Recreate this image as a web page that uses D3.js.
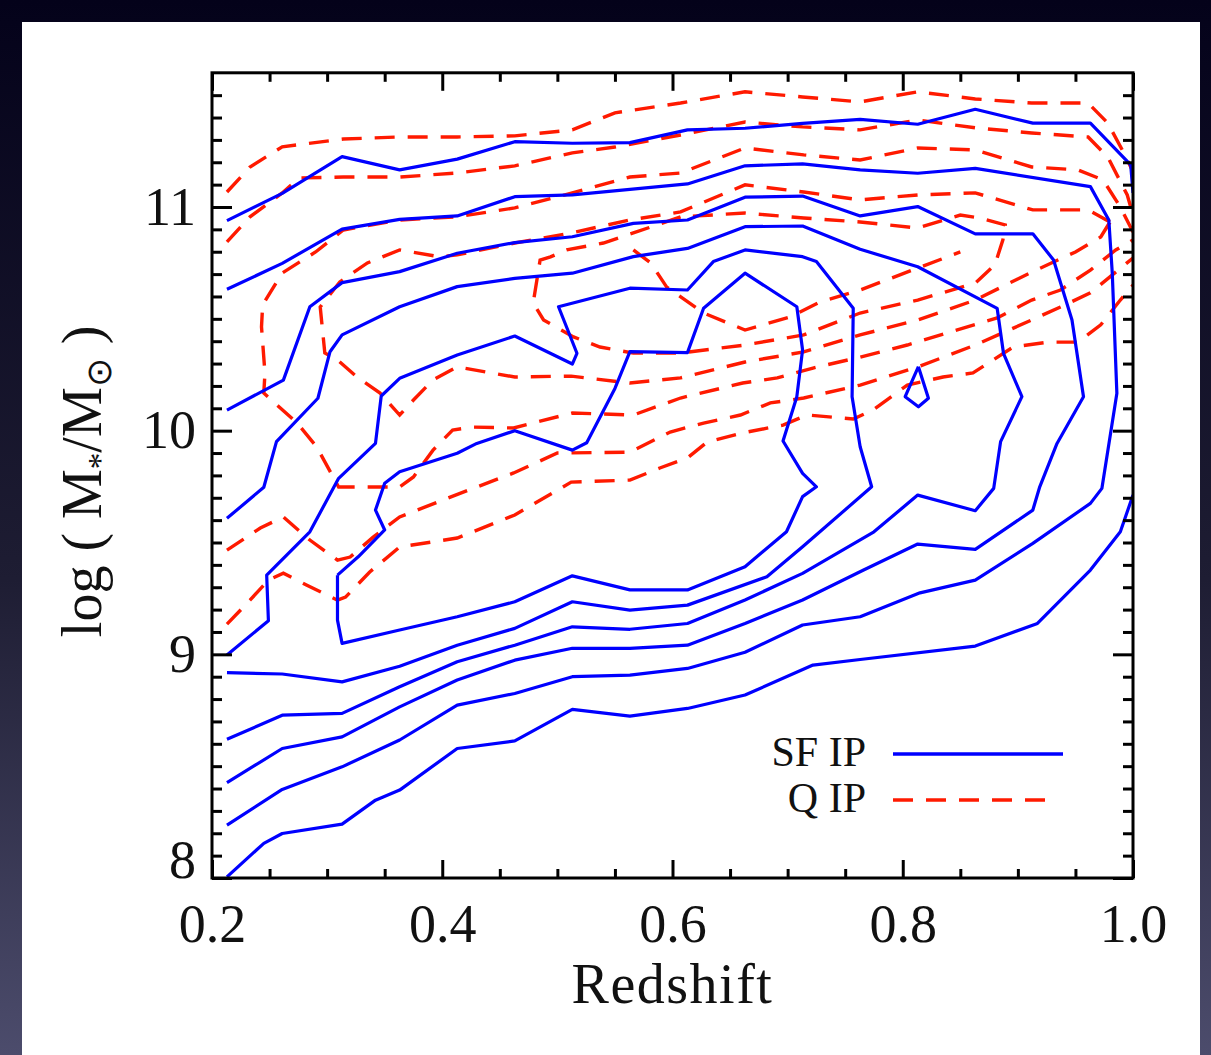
<!DOCTYPE html>
<html>
<head>
<meta charset="utf-8">
<script src="https://cdn.jsdelivr.net/npm/d3@7"></script>
<style>
  html, body { margin: 0; padding: 0; background: #05031a; }
  svg { display: block; }
</style>
</head>
<body>
<div id="chart"></div>
<script>
// axis ticks
const xMajor = [0.2, 0.4, 0.6, 0.8, 1.0];
const xMinor = d3.range(0.25, 1.0, 0.05).filter(v => Math.abs(v * 5 - Math.round(v * 5)) > 1e-6);
const yMajor = [8, 9, 10, 11];
const yMinor = d3.range(8.1, 11.6, 0.1).filter(v => Math.abs(v - Math.round(v)) > 1e-6);

// SF IP contours: [redshift, log M]
const sfLevel1Top = [[0.213,10.939],[0.261,11.061],[0.313,11.225],[0.363,11.166],[0.413,11.214],[0.463,11.292],[0.513,11.285],[0.563,11.288],[0.613,11.345],[0.663,11.352],[0.713,11.374],[0.763,11.392],[0.813,11.370],[0.863,11.437],[0.913,11.375],[0.963,11.375],[0.998,11.188],[1.0,11.063]];
const sfLevel1Bottom = [[0.213,8.005],[0.245,8.155],[0.261,8.199],[0.313,8.241],[0.342,8.348],[0.363,8.393],[0.413,8.579],[0.463,8.613],[0.513,8.754],[0.563,8.724],[0.613,8.758],[0.663,8.818],[0.722,8.952],[0.763,8.977],[0.863,9.037],[0.917,9.138],[0.963,9.377],[0.989,9.548],[1.0,9.712]];
const sfLevel2 = [[0.213,10.632],[0.261,10.748],[0.313,10.901],[0.363,10.945],[0.413,10.960],[0.463,11.046],[0.513,11.054],[0.613,11.103],[0.663,11.184],[0.713,11.193],[0.763,11.166],[0.813,11.151],[0.863,11.173],[0.963,11.091],[0.979,10.942],[0.982,10.704],[0.986,10.167],[0.973,9.742],[0.963,9.675],[0.913,9.496],[0.863,9.332],[0.815,9.275],[0.763,9.168],[0.713,9.131],[0.663,9.009],[0.613,8.937],[0.563,8.907],[0.513,8.900],[0.463,8.825],[0.413,8.773],[0.363,8.617],[0.313,8.497],[0.261,8.396],[0.213,8.236]];
const sfLevel3 = [[0.213,10.092],[0.262,10.226],[0.285,10.554],[0.313,10.662],[0.363,10.711],[0.413,10.793],[0.463,10.841],[0.513,10.867],[0.566,10.927],[0.613,10.942],[0.663,11.044],[0.713,11.049],[0.763,10.960],[0.813,11.002],[0.863,10.880],[0.913,10.880],[0.931,10.763],[0.947,10.495],[0.957,10.152],[0.934,9.943],[0.919,9.749],[0.913,9.645],[0.863,9.469],[0.813,9.493],[0.766,9.377],[0.713,9.243],[0.663,9.138],[0.613,9.041],[0.563,9.027],[0.513,9.027],[0.463,8.974],[0.413,8.885],[0.363,8.765],[0.313,8.631],[0.261,8.579],[0.213,8.426]];
const sfLevel4 = [[0.213,9.608],[0.245,9.747],[0.256,9.951],[0.292,10.145],[0.3025,10.353],[0.313,10.428],[0.363,10.554],[0.413,10.644],[0.463,10.681],[0.513,10.704],[0.566,10.778],[0.613,10.815],[0.663,10.912],[0.713,10.915],[0.763,10.811],[0.813,10.733],[0.882,10.547],[0.8875,10.346],[0.9035,10.152],[0.885,9.951],[0.879,9.742],[0.863,9.642],[0.813,9.712],[0.775,9.548],[0.713,9.362],[0.663,9.243],[0.613,9.138],[0.563,9.112],[0.513,9.123],[0.463,9.041],[0.413,8.967],[0.363,8.855],[0.313,8.736],[0.261,8.728],[0.213,8.620]];
const sfLevel5 = [[0.213,8.997],[0.249,9.150],[0.2475,9.354],[0.285,9.548],[0.310,9.787],[0.342,9.943],[0.347,10.155],[0.363,10.234],[0.413,10.338],[0.463,10.423],[0.513,10.298],[0.517,10.346],[0.501,10.554],[0.563,10.637],[0.613,10.629],[0.6355,10.756],[0.663,10.808],[0.713,10.778],[0.725,10.756],[0.757,10.547],[0.756,10.152],[0.763,9.928],[0.773,9.749],[0.713,9.481],[0.682,9.347],[0.613,9.220],[0.563,9.198],[0.513,9.235],[0.463,9.116],[0.413,9.041],[0.363,8.947],[0.313,8.877],[0.261,8.912],[0.213,8.918]];
const sfLevel6 = [[0.309,9.354],[0.327,9.436],[0.350,9.556],[0.342,9.645],[0.350,9.765],[0.363,9.816],[0.413,9.899],[0.430,9.943],[0.463,10.000],[0.513,9.913],[0.5255,9.946],[0.550,10.189],[0.563,10.353],[0.613,10.349],[0.627,10.547],[0.663,10.704],[0.708,10.554],[0.713,10.361],[0.708,10.152],[0.696,9.954],[0.713,9.809],[0.725,9.749],[0.713,9.705],[0.699,9.548],[0.663,9.392],[0.613,9.288],[0.563,9.288],[0.513,9.351],[0.463,9.235],[0.413,9.168],[0.363,9.109],[0.313,9.049],[0.309,9.153],[0.309,9.354]];
const sfPeak = [[0.8136,10.286],[0.8223,10.145],[0.8136,10.107],[0.8021,10.152],[0.8136,10.286]];

// Q IP contours: [redshift, log M]
const qTop1 = [[0.213,11.067],[0.233,11.179],[0.261,11.269],[0.314,11.304],[0.363,11.313],[0.413,11.313],[0.463,11.318],[0.513,11.345],[0.550,11.421],[0.607,11.465],[0.663,11.515],[0.713,11.492],[0.763,11.470],[0.813,11.515],[0.863,11.483],[0.912,11.465],[0.961,11.465],[0.978,11.376],[0.993,11.233],[1.0,11.157]];
const qTop2 = [[0.213,10.844],[0.233,10.956],[0.261,11.063],[0.276,11.130],[0.314,11.134],[0.363,11.134],[0.413,11.152],[0.463,11.184],[0.513,11.242],[0.550,11.268],[0.607,11.322],[0.663,11.380],[0.713,11.358],[0.763,11.345],[0.813,11.389],[0.863,11.354],[0.912,11.331],[0.961,11.313],[0.978,11.224],[0.995,11.054],[1.0,10.964]];
const qLoop3 = [[1.0,10.888],[0.989,11.0],[0.974,11.121],[0.952,11.166],[0.912,11.179],[0.863,11.255],[0.813,11.264],[0.763,11.210],[0.714,11.233],[0.663,11.264],[0.607,11.152],[0.563,11.134],[0.513,11.063],[0.463,10.996],[0.413,10.956],[0.363,10.942],[0.314,10.897],[0.290,10.799],[0.261,10.705],[0.244,10.562],[0.243,10.464],[0.246,10.258],[0.245,10.168],[0.274,10.034],[0.291,9.927],[0.310,9.748],[0.363,9.748],[0.375,9.793],[0.392,9.913],[0.409,10.003],[0.427,10.016],[0.462,10.012],[0.513,10.079],[0.566,10.070],[0.607,10.146],[0.661,10.213],[0.691,10.236],[0.722,10.280],[0.763,10.329],[0.804,10.383],[0.841,10.441],[0.882,10.504],[0.912,10.584],[0.937,10.629],[0.963,10.718],[0.985,10.808],[1.0,10.853]];
const qLoop4 = [[0.980,10.933],[0.961,10.987],[0.913,10.987],[0.863,11.063],[0.813,11.054],[0.763,11.032],[0.714,11.067],[0.663,11.099],[0.607,10.978],[0.563,10.942],[0.512,10.884],[0.463,10.839],[0.413,10.786],[0.398,10.777],[0.363,10.808],[0.335,10.750],[0.311,10.665],[0.294,10.553],[0.298,10.347],[0.309,10.316],[0.326,10.240],[0.346,10.168],[0.363,10.070],[0.375,10.137],[0.392,10.227],[0.413,10.285],[0.463,10.240],[0.512,10.244],[0.563,10.213],[0.607,10.236],[0.663,10.307],[0.714,10.352],[0.763,10.428],[0.813,10.495],[0.863,10.584],[0.912,10.709],[0.950,10.799],[0.972,10.866],[0.980,10.933]];
const qLoop5 = [[0.607,10.956],[0.566,10.884],[0.540,10.839],[0.508,10.808],[0.494,10.777],[0.485,10.763],[0.479,10.571],[0.488,10.495],[0.514,10.419],[0.537,10.374],[0.566,10.347],[0.607,10.347],[0.663,10.383],[0.714,10.428],[0.763,10.526],[0.813,10.584],[0.863,10.660],[0.880,10.741],[0.887,10.853],[0.889,10.920],[0.867,10.951],[0.850,10.964],[0.813,10.906],[0.763,10.933],[0.714,10.951],[0.663,10.973],[0.607,10.956]];
const qInner = [[0.566,10.808],[0.581,10.750],[0.595,10.642],[0.627,10.526],[0.663,10.450],[0.702,10.508],[0.728,10.575],[0.763,10.629],[0.813,10.727],[0.850,10.799]];
const qBottom1 = [[0.213,9.135],[0.233,9.242],[0.249,9.332],[0.262,9.363],[0.282,9.310],[0.309,9.242],[0.316,9.256],[0.337,9.368],[0.363,9.480],[0.413,9.520],[0.463,9.623],[0.512,9.770],[0.563,9.779],[0.589,9.833],[0.613,9.878],[0.630,9.949],[0.661,9.990],[0.696,10.025],[0.717,10.070],[0.757,10.052],[0.774,10.092],[0.786,10.137],[0.804,10.204],[0.835,10.240],[0.861,10.258],[0.896,10.374],[0.926,10.396],[0.952,10.396],[0.972,10.473],[0.989,10.584],[1.0,10.651]];
const qBottom2 = [[0.213,9.466],[0.242,9.565],[0.262,9.614],[0.285,9.511],[0.309,9.421],[0.320,9.435],[0.340,9.524],[0.363,9.614],[0.407,9.703],[0.462,9.811],[0.500,9.900],[0.563,9.904],[0.598,9.994],[0.627,10.034],[0.659,10.070],[0.685,10.124],[0.714,10.146],[0.763,10.204],[0.813,10.285],[0.863,10.383],[0.912,10.495],[0.937,10.553],[0.963,10.616],[0.985,10.709],[1.0,10.772]];

const sfContours = [sfLevel1Top, sfLevel1Bottom, sfLevel2, sfLevel3, sfLevel4, sfLevel5, sfLevel6, sfPeak];
const qContours = [qTop1, qTop2, qLoop3, qLoop4, qLoop5, qInner, qBottom1, qBottom2];

const legendItems = [
  { label: 'SF IP', color: '#0000ff', dash: null },
  { label: 'Q IP', color: '#ff1a00', dash: '20,13' }
];

const W = 1211, H = 1055;
const font = '"Liberation Serif", "Times New Roman", serif';

const svg = d3.select('#chart').append('svg')
  .attr('width', W)
  .attr('height', H);

// slide background
const grad = svg.append('defs').append('linearGradient')
  .attr('id', 'bg').attr('x1', 0).attr('y1', 0).attr('x2', 0).attr('y2', 1);
grad.append('stop').attr('offset', '0%').attr('stop-color', '#04021a');
grad.append('stop').attr('offset', '55%').attr('stop-color', '#1e1d33');
grad.append('stop').attr('offset', '100%').attr('stop-color', '#4c4c6c');
svg.append('rect').attr('width', W).attr('height', H).attr('fill', 'url(#bg)');
svg.append('rect').attr('x', 22).attr('y', 22).attr('width', 1178).attr('height', H - 22).attr('fill', '#fff');

// Scales
const x = d3.scaleLinear().domain([0.2, 1.0]).range([212, 1133]);
const y = d3.scaleLinear().domain([8, 11.6]).range([878, 72.8]);

svg.append('clipPath').attr('id', 'plotclip')
  .append('rect')
  .attr('x', x(0.2)).attr('y', y(11.6))
  .attr('width', x(1.0) - x(0.2)).attr('height', y(8) - y(11.6));

const line = d3.line()
  .x(d => x(d[0]))
  .y(d => y(d[1]));

const plot = svg.append('g').attr('clip-path', 'url(#plotclip)');

// Q IP dashed contours
plot.selectAll('path.q')
  .data(qContours)
  .enter()
  .append('path')
  .attr('class', 'q')
  .attr('d', line)
  .attr('fill', 'none')
  .attr('stroke', legendItems[1].color)
  .attr('stroke-width', 3.4)
  .attr('stroke-dasharray', legendItems[1].dash);

// SF IP solid contours
plot.selectAll('path.sf')
  .data(sfContours)
  .enter()
  .append('path')
  .attr('class', 'sf')
  .attr('d', line)
  .attr('fill', 'none')
  .attr('stroke', legendItems[0].color)
  .attr('stroke-width', 3.2)
  .attr('stroke-linejoin', 'round');

// Axes, ticks pointing inward on all four sides
function styleAxis(g) {
  g.select('.domain').remove();
  g.selectAll('.tick line').attr('stroke', '#000').attr('stroke-width', 3);
  g.selectAll('.tick text')
    .attr('fill', '#111')
    .style('font-family', font)
    .style('font-size', '54px');
}

svg.append('g')
  .attr('transform', `translate(0,${y(8)})`)
  .call(d3.axisBottom(x).tickValues(xMajor).tickSize(-18).tickPadding(26).tickFormat(d3.format('.1f')))
  .call(styleAxis);
svg.append('g')
  .attr('transform', `translate(0,${y(8)})`)
  .call(d3.axisBottom(x).tickValues(xMinor).tickSize(-9).tickFormat(''))
  .call(styleAxis);
svg.append('g')
  .attr('transform', `translate(0,${y(11.6)})`)
  .call(d3.axisTop(x).tickValues(xMajor).tickSize(-18).tickFormat(''))
  .call(styleAxis);
svg.append('g')
  .attr('transform', `translate(0,${y(11.6)})`)
  .call(d3.axisTop(x).tickValues(xMinor).tickSize(-9).tickFormat(''))
  .call(styleAxis);

const leftAxis = svg.append('g')
  .attr('transform', `translate(${x(0.2)},0)`)
  .call(d3.axisLeft(y).tickValues(yMajor).tickSize(-20).tickPadding(16).tickFormat(d3.format('d')))
  .call(styleAxis);
// the lowest label sits just above the corner, as in the original
leftAxis.selectAll('.tick text').filter(d => d === 8).attr('y', -18);

svg.append('g')
  .attr('transform', `translate(${x(0.2)},0)`)
  .call(d3.axisLeft(y).tickValues(yMinor).tickSize(-10).tickFormat(''))
  .call(styleAxis);
svg.append('g')
  .attr('transform', `translate(${x(1.0)},0)`)
  .call(d3.axisRight(y).tickValues(yMajor).tickSize(-20).tickFormat(''))
  .call(styleAxis);
svg.append('g')
  .attr('transform', `translate(${x(1.0)},0)`)
  .call(d3.axisRight(y).tickValues(yMinor).tickSize(-10).tickFormat(''))
  .call(styleAxis);

// Frame
svg.append('rect')
  .attr('x', x(0.2)).attr('y', y(11.6))
  .attr('width', x(1.0) - x(0.2)).attr('height', y(8) - y(11.6))
  .attr('fill', 'none').attr('stroke', '#000').attr('stroke-width', 3);

// Axis titles
svg.append('text')
  .attr('x', (x(0.2) + x(1.0)) / 2)
  .attr('y', 1003)
  .attr('text-anchor', 'middle')
  .style('font-family', font)
  .style('font-size', '56px')
  .style('letter-spacing', '1.5px')
  .attr('fill', '#111')
  .text('Redshift');

const yTitle = svg.append('text')
  .attr('transform', `translate(101,${(y(8) + y(11.6)) / 2 + 6}) rotate(-90)`)
  .attr('text-anchor', 'middle')
  .style('font-family', font)
  .style('font-size', '56px')
  .attr('fill', '#111');
yTitle.append('tspan').text('log ( M');
yTitle.append('tspan').attr('dy', 10).style('font-size', '33px').text('*');
yTitle.append('tspan').attr('dy', -10).text('/M');
yTitle.append('tspan').attr('dy', 10).style('font-size', '35px').text('⊙');
yTitle.append('tspan').attr('dy', -10).text(' )');

// Legend
const legend = svg.append('g');
legendItems.forEach((d, i) => {
  const ly = 754 + i * 46;
  legend.append('text')
    .attr('x', 866).attr('y', ly + 12)
    .attr('text-anchor', 'end')
    .style('font-family', font)
    .style('font-size', '42px')
    .attr('fill', '#111')
    .text(d.label);
  legend.append('line')
    .attr('x1', 893).attr('x2', d.dash ? 1048 : 1063)
    .attr('y1', ly).attr('y2', ly)
    .attr('stroke', d.color)
    .attr('stroke-width', 3.4)
    .attr('stroke-dasharray', d.dash);
});
</script>
</body>
</html>
